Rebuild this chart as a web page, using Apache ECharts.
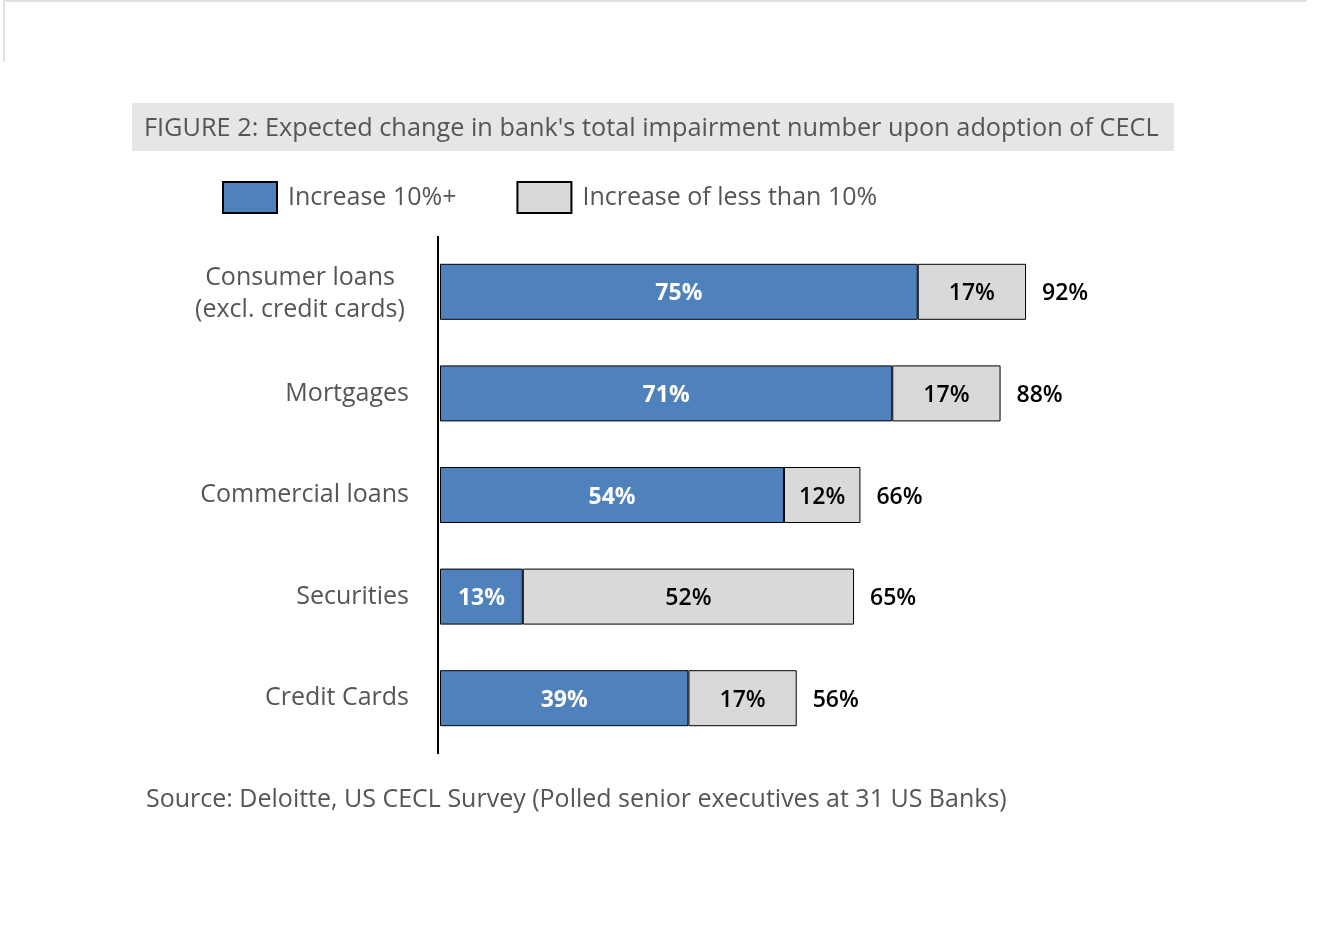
<!DOCTYPE html>
<html><head><meta charset="utf-8">
<script src="https://cdn.jsdelivr.net/npm/echarts@6/dist/echarts.min.js"></script>
<style>html,body{margin:0;padding:0;background:#fff}#c{width:1320px;height:925px}</style>
</head><body><div id="c"></div>
<script>
const categories = ['Consumer loans\n(excl. credit cards)', 'Mortgages', 'Commercial loans', 'Securities', 'Credit Cards'];
const increase10Plus = [75, 71, 54, 13, 39];
const increaseLess10 = [17, 17, 12, 52, 17];
const totals = [92, 88, 66, 65, 56];
const seriesNames = ['Increase 10%+', 'Increase of less than 10%'];
const titleText = "FIGURE 2: Expected change in bank's total impairment number upon adoption of CECL";
const sourceText = 'Source: Deloitte, US CECL Survey (Polled senior executives at 31 US Banks)';

const FONT = '"Open Sans", Lato, sans-serif';
const GREY_TEXT = '#555';
const chart = echarts.init(document.getElementById('c'));
chart.setOption({
  animation: false,
  backgroundColor: '#fff',
  graphic: [
    {type: 'rect', shape: {x: 3, y: 0, width: 1304, height: 2}, style: {fill: '#e2e2e2'}},
    {type: 'rect', shape: {x: 3, y: 0, width: 2, height: 62}, style: {fill: '#e2e2e2'}},
    {type: 'rect', shape: {x: 132, y: 103, width: 1042, height: 48}, style: {fill: '#e6e6e6'}},
    {type: 'text', x: 144, y: 129, style: {text: titleText, fill: GREY_TEXT, font: '25.3px ' + FONT, verticalAlign: 'middle'}},
    {type: 'text', x: 146, y: 800, style: {text: sourceText, fill: GREY_TEXT, font: '25px ' + FONT, verticalAlign: 'middle'}},
    {type: 'line', shape: {x1: 438, y1: 236, x2: 438, y2: 754}, style: {stroke: '#000', lineWidth: 2}, z: 10}
  ],
  legend: {
    left: 217, top: 176,
    icon: 'rect',
    itemWidth: 54, itemHeight: 31, itemGap: 60,
    itemStyle: {borderColor: '#000', borderWidth: 2},
    textStyle: {color: GREY_TEXT, fontSize: 25, fontFamily: FONT, padding: [2, 0, 0, 6]},
    data: seriesNames
  },
  grid: {left: 440, top: 241, width: 637, height: 508, containLabel: false},
  xAxis: {type: 'value', min: 0, max: 100, show: false},
  yAxis: {
    type: 'category', inverse: true, data: categories,
    axisLine: {show: false},
    axisTick: {show: false},
    axisLabel: {color: GREY_TEXT, fontSize: 25, fontFamily: FONT, margin: 31, lineHeight: 32,
      formatter: v => v.indexOf('\n') >= 0 ? v.split('\n').map(s => '{c|' + s + '}').join('\n') : v,
      rich: {c: {width: 218, align: 'center', fontSize: 25, lineHeight: 32, fontFamily: FONT, color: GREY_TEXT, padding: [4, 0, 0, 0]}}},
    splitLine: {show: false}
  },
  series: [
    {
      name: seriesNames[0], type: 'bar', stack: 's', barWidth: 56, data: increase10Plus,
      itemStyle: {color: '#4f81bd', borderColor: '#000', borderWidth: 1},
      label: {show: true, position: 'inside', offset: [0, 2], color: '#fff', fontSize: 23, fontWeight: 700, fontFamily: FONT, formatter: '{c}%'}
    },
    {
      name: seriesNames[1], type: 'bar', stack: 's', barWidth: 56, data: increaseLess10,
      itemStyle: {color: '#d9d9d9', borderColor: '#000', borderWidth: 1},
      label: {show: true, position: 'inside', offset: [0, 2], color: '#000', fontSize: 23, fontWeight: 600, fontFamily: FONT, formatter: '{c}%'}
    },
    {
      name: 'total', type: 'bar', stack: 's', barWidth: 56, data: totals.map(() => 0),
      itemStyle: {color: 'transparent'}, silent: true,
      label: {show: true, position: 'right', distance: 16, offset: [0, 2], color: '#000', fontSize: 23, fontWeight: 600, fontFamily: FONT,
        formatter: p => totals[p.dataIndex] + '%'}
    }
  ]
});
</script></body></html>
